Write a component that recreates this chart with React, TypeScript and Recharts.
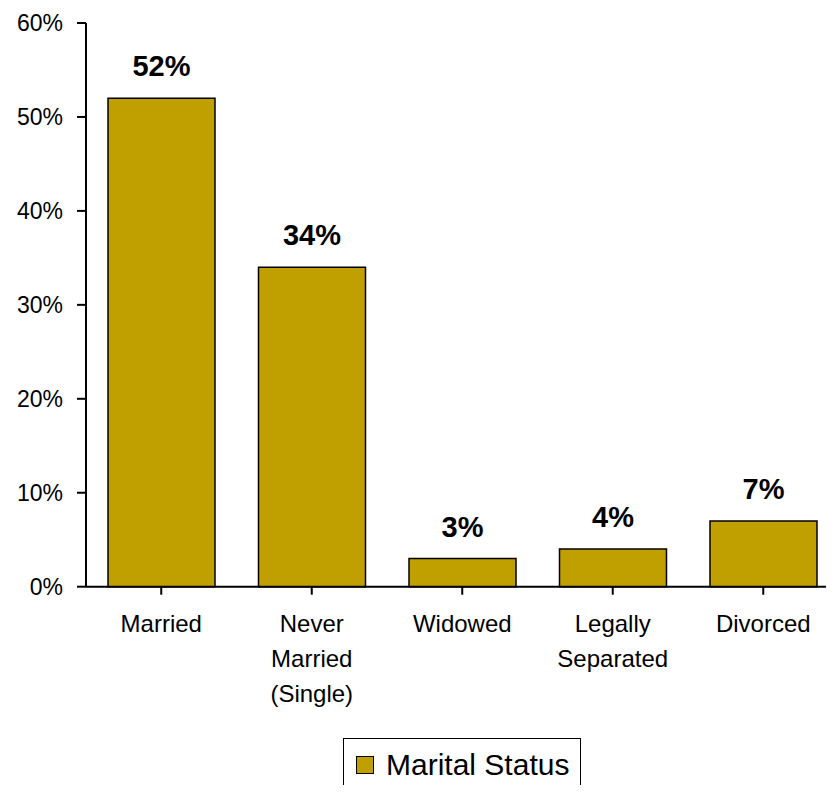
import { BarChart, Bar, XAxis, YAxis, LabelList } from 'recharts'

const categories = ['Married', 'Never\nMarried\n(Single)', 'Widowed', 'Legally\nSeparated', 'Divorced']
const maritalStatus = [0.52, 0.34, 0.03, 0.04, 0.07]
const yTicks = [0, 0.1, 0.2, 0.3, 0.4, 0.5, 0.6]
const seriesName = 'Marital Status'

const data = categories.map((c, i) => ({ name: c, value: maritalStatus[i] }))

const FONT = '"Liberation Sans", Arial, sans-serif'
const GOLD = '#c0a000'

const pct = (v: number) => `${Math.round(v * 100)}%`

// multi-line category labels, 35px line spacing
function CategoryTick(props: any) {
  const { x, y, payload } = props
  const lines = String(payload.value).split('\n')
  return (
    <text x={x} y={y} textAnchor="middle" fontFamily={FONT} fontSize={24} fill="#000">
      {lines.map((l, i) => (
        <tspan key={i} x={x} dy={35}>{l}</tspan>
      ))}
    </text>
  )
}

export default function App() {
  return (
    <div style={{ position: 'relative', width: 826, height: 785, marginBottom: -8, overflow: 'hidden', fontFamily: FONT }}>
      <BarChart
        width={840}
        height={785}
        data={data}
        margin={{ top: 15, right: 9.5, left: 0, bottom: 96.3 }}
        barSize={107}
      >
        <XAxis
          dataKey="name"
          interval={0}
          height={110}
          tick={<CategoryTick />}
          tickSize={8}
          axisLine={{ stroke: '#000', strokeWidth: 2 }}
          tickLine={{ stroke: '#000', strokeWidth: 2 }}
        />
        <YAxis
          width={78}
          domain={[0, 0.6]}
          ticks={yTicks}
          tickFormatter={pct}
          tickSize={9}
          tickMargin={14}
          axisLine={{ stroke: '#000', strokeWidth: 2 }}
          tickLine={{ stroke: '#000', strokeWidth: 2 }}
          tick={{ fill: '#000', fontSize: 23, fontFamily: FONT }}
        />
        <Bar dataKey="value" name={seriesName} fill={GOLD} stroke="#000" strokeWidth={1.5} isAnimationActive={false}>
          <LabelList
            dataKey="value"
            position="top"
            offset={22}
            formatter={(v: any) => pct(Number(v))}
            style={{ fill: '#000', fontSize: 29, fontWeight: 'bold', fontFamily: FONT }}
          />
        </Bar>
      </BarChart>
      <div
        style={{
          position: 'absolute',
          left: 335,
          top: 730,
          width: 238,
          height: 53,
          boxSizing: 'border-box',
          border: '1.5px solid #000',
          background: '#fff',
          display: 'flex',
          alignItems: 'center',
          paddingLeft: 12,
        }}
      >
        <span style={{ width: 18, height: 18, boxSizing: 'border-box', background: GOLD, border: '1.5px solid #000', display: 'inline-block' }} />
        <span style={{ fontSize: 30, marginLeft: 12, lineHeight: 1 }}>{seriesName}</span>
      </div>
    </div>
  )
}
